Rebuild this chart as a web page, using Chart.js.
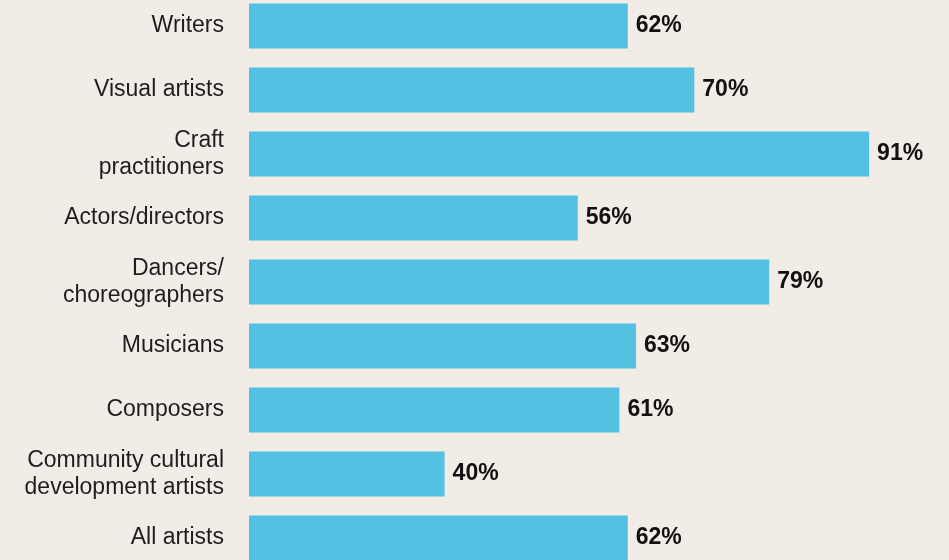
<!DOCTYPE html>
<html>
<head>
<meta charset="utf-8">
<script src="https://cdn.jsdelivr.net/npm/chart.js@4/dist/chart.umd.min.js"></script>
<style>
  html, body { margin: 0; padding: 0; width: 949px; height: 560px; overflow: hidden; background: #f1ece6; }
  #wrap { position: absolute; left: 0; top: -6px; width: 949px; height: 576px; }
</style>
</head>
<body>
<div id="wrap"><canvas id="c"></canvas></div>
<script>
const categories = [
  "Writers",
  "Visual artists",
  ["Craft", "practitioners"],
  "Actors/directors",
  ["Dancers/", "choreographers"],
  "Musicians",
  "Composers",
  ["Community cultural", "development artists"],
  "All artists"
];
const shareValues = [62, 70, 91, 56, 79, 63, 61, 40, 62];

const valueLabels = {
  id: 'valueLabels',
  afterDatasetsDraw(chart) {
    const ctx = chart.ctx;
    const meta = chart.getDatasetMeta(0);
    ctx.save();
    ctx.font = 'bold 23px "Liberation Sans", Arial, sans-serif';
    ctx.fillStyle = '#111111';
    ctx.textAlign = 'left';
    ctx.textBaseline = 'middle';
    meta.data.forEach((bar, i) => {
      ctx.fillText(shareValues[i] + '%', bar.x + 8, bar.y);
    });
    ctx.restore();
  }
};

new Chart(document.getElementById('c'), {
  type: 'bar',
  data: {
    labels: categories,
    datasets: [{
      data: shareValues,
      backgroundColor: '#53c1e2',
      borderWidth: 0,
      barPercentage: 45 / 64,
      categoryPercentage: 1
    }]
  },
  options: {
    indexAxis: 'y',
    responsive: true,
    maintainAspectRatio: false,
    animation: false,
    layout: { padding: 0 },
    plugins: { legend: { display: false }, tooltip: { enabled: false } },
    scales: {
      x: {
        display: false,
        min: 16.5,
        max: 100.6
      },
      y: {
        afterFit(scale) {
          scale.width = 249;
          scale.paddingTop = 0;
          scale.paddingBottom = 0;
        },
        grid: { display: false, drawTicks: false },
        border: { display: false },
        ticks: {
          padding: 25,
          color: '#1e1e1e',
          font: { family: '"Liberation Sans", Arial, sans-serif', size: 23, lineHeight: 1.2 }
        }
      }
    }
  },
  plugins: [valueLabels]
});
</script>
</body>
</html>
